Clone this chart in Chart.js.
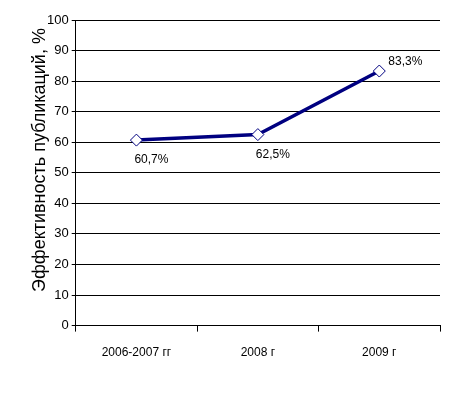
<!DOCTYPE html>
<html>
<head>
<meta charset="utf-8">
<script src="https://cdn.jsdelivr.net/npm/chart.js@4/dist/chart.umd.min.js"></script>
<style>
  html, body { margin: 0; padding: 0; background: #fff; }
  #wrap { width: 467px; height: 399px; }
</style>
</head>
<body>
<div id="wrap"><canvas id="chartCanvas"></canvas></div>
<script>
const categories = ['2006-2007 гг', '2008 г', '2009 г'];
const values = [60.7, 62.5, 83.3];
const pointLabels = ['60,7%', '62,5%', '83,3%'];
const yTitle = 'Эффективность публикаций, %';

// подписи точек и заголовок оси Y
const labelPlugin = {
  id: 'pointLabels',
  afterDatasetsDraw(chart) {
    const ctx = chart.ctx;
    const meta = chart.getDatasetMeta(0);
    ctx.save();
    ctx.font = '12px "Liberation Sans", Arial, sans-serif';
    ctx.fillStyle = '#000';
    ctx.textBaseline = 'middle';
    ctx.textAlign = 'left';
    meta.data.forEach((pt, i) => {
      if (i < 2) {
        ctx.fillText(pointLabels[i], pt.x - 2, pt.y + 20);
      } else {
        ctx.fillText(pointLabels[i], pt.x + 9, pt.y - 9);
      }
    });

    // заголовок оси — немного выше центра, как в оригинале
    ctx.translate(40, 160);
    ctx.rotate(-Math.PI / 2);
    ctx.font = '18px "Liberation Sans", Arial, sans-serif';
    ctx.textAlign = 'center';
    ctx.fillText(yTitle, 0, 0);
    ctx.restore();
  }
};

const ctx = document.getElementById('chartCanvas').getContext('2d');
new Chart(ctx, {
  type: 'line',
  data: {
    labels: categories,
    datasets: [{
      data: values,
      borderColor: '#000080',
      borderWidth: 3.5,
      pointStyle: 'rectRot',
      pointRadius: 6,
      pointBackgroundColor: '#fff',
      pointBorderColor: '#000080',
      pointBorderWidth: 1,
      fill: false,
      tension: 0
    }]
  },
  options: {
    responsive: true,
    maintainAspectRatio: false,
    animation: false,
    layout: { padding: { left: 44, right: 27, top: 20, bottom: 25 } },
    plugins: {
      legend: { display: false },
      tooltip: { enabled: false }
    },
    scales: {
      x: {
        offset: true,
        grid: {
          offset: true,
          drawOnChartArea: false,
          drawTicks: true,
          tickLength: 6,
          color: '#000'
        },
        border: { color: '#000', width: 1 },
        ticks: {
          color: '#000',
          font: { family: '"Liberation Sans", Arial, sans-serif', size: 12 },
          padding: 14,
          maxRotation: 0
        }
      },
      y: {
        min: 0,
        max: 100,
        ticks: {
          stepSize: 10,
          color: '#000',
          font: { family: '"Liberation Sans", Arial, sans-serif', size: 13 },
          padding: 3
        },
        grid: { color: '#000', tickLength: 4 },
        border: { color: '#000', width: 1 }
      }
    }
  },
  plugins: [labelPlugin]
});
</script>
</body>
</html>
